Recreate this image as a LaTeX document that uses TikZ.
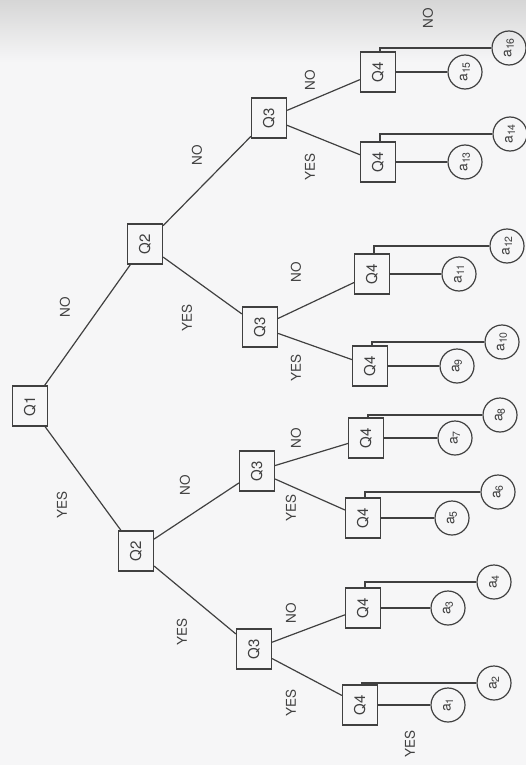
\documentclass[tikz,border=0pt]{standalone}
\usepackage{fontspec}
\setmainfont{TeX Gyre Heros}
\usetikzlibrary{positioning}
\definecolor{inkgray}{RGB}{64,64,64}
\definecolor{papergray}{RGB}{246,246,247}
\newcommand{\upr}[1]{\rotatebox{90}{#1}}
\newcommand{\leafname}[1]{a\raisebox{-2.5pt}{\fontsize{10.5}{10.5}\selectfont#1}}

\begin{document}
\begin{tikzpicture}[x=1pt,y=-1pt,
    every node/.style={text=inkgray},
    qbox/.style={draw=inkgray,line width=1.2pt,minimum width=35pt,minimum height=40pt,inner sep=0pt,font=\fontsize{15}{15}\selectfont},
    leaf/.style={draw=inkgray,line width=1.2pt,circle,minimum size=34pt,inner sep=0pt,font=\fontsize{14}{14}\selectfont},
    lab/.style={rotate=90,inner sep=1pt,font=\fontsize{13.5}{14}\selectfont},
    link/.style={draw=inkgray,line width=1.2pt}]
  \useasboundingbox (0,0) rectangle (526,765);
  % Paper
  \fill[papergray] (0,0) rectangle (526,765);
  \shade[top color=black!16,bottom color=papergray] (0,0) rectangle (526,62);
  % Root and second level
  \node[qbox] (q1) at (30,406) {\upr{Q1}};
  \node[qbox] (q2n) at (145,244) {\upr{Q2}};
  \node[qbox] (q2y) at (136,551) {\upr{Q2}};
  % Third level
  \node[qbox] (q3nn) at (269,118) {\upr{Q3}};
  \node[qbox] (q3ny) at (260,327) {\upr{Q3}};
  \node[qbox] (q3yn) at (257,471) {\upr{Q3}};
  \node[qbox] (q3yy) at (254,649) {\upr{Q3}};
  % Fourth level
  \foreach \k/\x/\y in {1/360/705, 2/363/608, 3/363/518, 4/366/438, 5/370/366, 6/372/274, 7/378/162, 8/378/72}{
    \node[qbox] (q4\k) at (\x,\y) {\upr{Q4}};
  }
  % Branches
  \draw[link] (q1) -- (q2n);
  \draw[link] (q1) -- (q2y);
  \draw[link] (q2n) -- (q3nn);
  \draw[link] (q2n) -- (q3ny);
  \draw[link] (q2y) -- (q3yn);
  \draw[link] (q2y) -- (q3yy);
  \draw[link] (q3yy) -- (q41);
  \draw[link] (q3yy) -- (q42);
  \draw[link] (q3yn) -- (q43);
  \draw[link] (q3yn) -- (q44);
  \draw[link] (q3ny) -- (q45);
  \draw[link] (q3ny) -- (q46);
  \draw[link] (q3nn) -- (q47);
  \draw[link] (q3nn) -- (q48);
  % Leaves on the YES side of Q4
  \foreach \k/\n/\x in {1/1/448, 2/3/448, 3/5/452, 4/7/455, 5/9/457, 6/11/459, 7/13/465, 8/15/465}{
    \node[leaf] (a\n) at (q4\k -| \x,0) {\upr{\leafname{\n}}};
    \draw[link] (q4\k) -- (a\n);
  }
  % Leaves on the NO side of Q4
  \foreach \k/\n/\x/\y in {1/2/494/683, 2/4/494/582, 3/6/498/492, 4/8/500/415, 5/10/502/342, 6/12/507/246, 7/14/510/134, 8/16/509/48}{
    \node[leaf] (a\n) at (\x,\y) {\upr{\leafname{\n}}};
    \draw[link] ([xshift=2pt]q4\k.north) |- (a\n.west);
  }
  % Answers
  \node[lab] (l1n) at (65,307) {NO};
  \node[lab] (l1y) at (62,505) {YES};
  \node[lab] (l2nn) at (197,155) {NO};
  \node[lab] (l2ny) at (187,318) {YES};
  \node[lab] (l2yn) at (185,485) {NO};
  \node[lab] (l2yy) at (182,632) {YES};
  \node[lab] (l3nnn) at (310,80) {NO};
  \node[lab] (l3nny) at (310,167) {YES};
  \node[lab] (l3nyn) at (296,272) {NO};
  \node[lab] (l3nyy) at (296,368) {YES};
  \node[lab] (l3ynn) at (296,438) {NO};
  \node[lab] (l3yny) at (291,508) {YES};
  \node[lab] (l3yyn) at (291,613) {NO};
  \node[lab] (l3yyy) at (291,703) {YES};
  \node[lab] (l4n) at (428,18) {NO};
  \node[lab] (l4y) at (410,744) {YES};
\end{tikzpicture}
\end{document}
